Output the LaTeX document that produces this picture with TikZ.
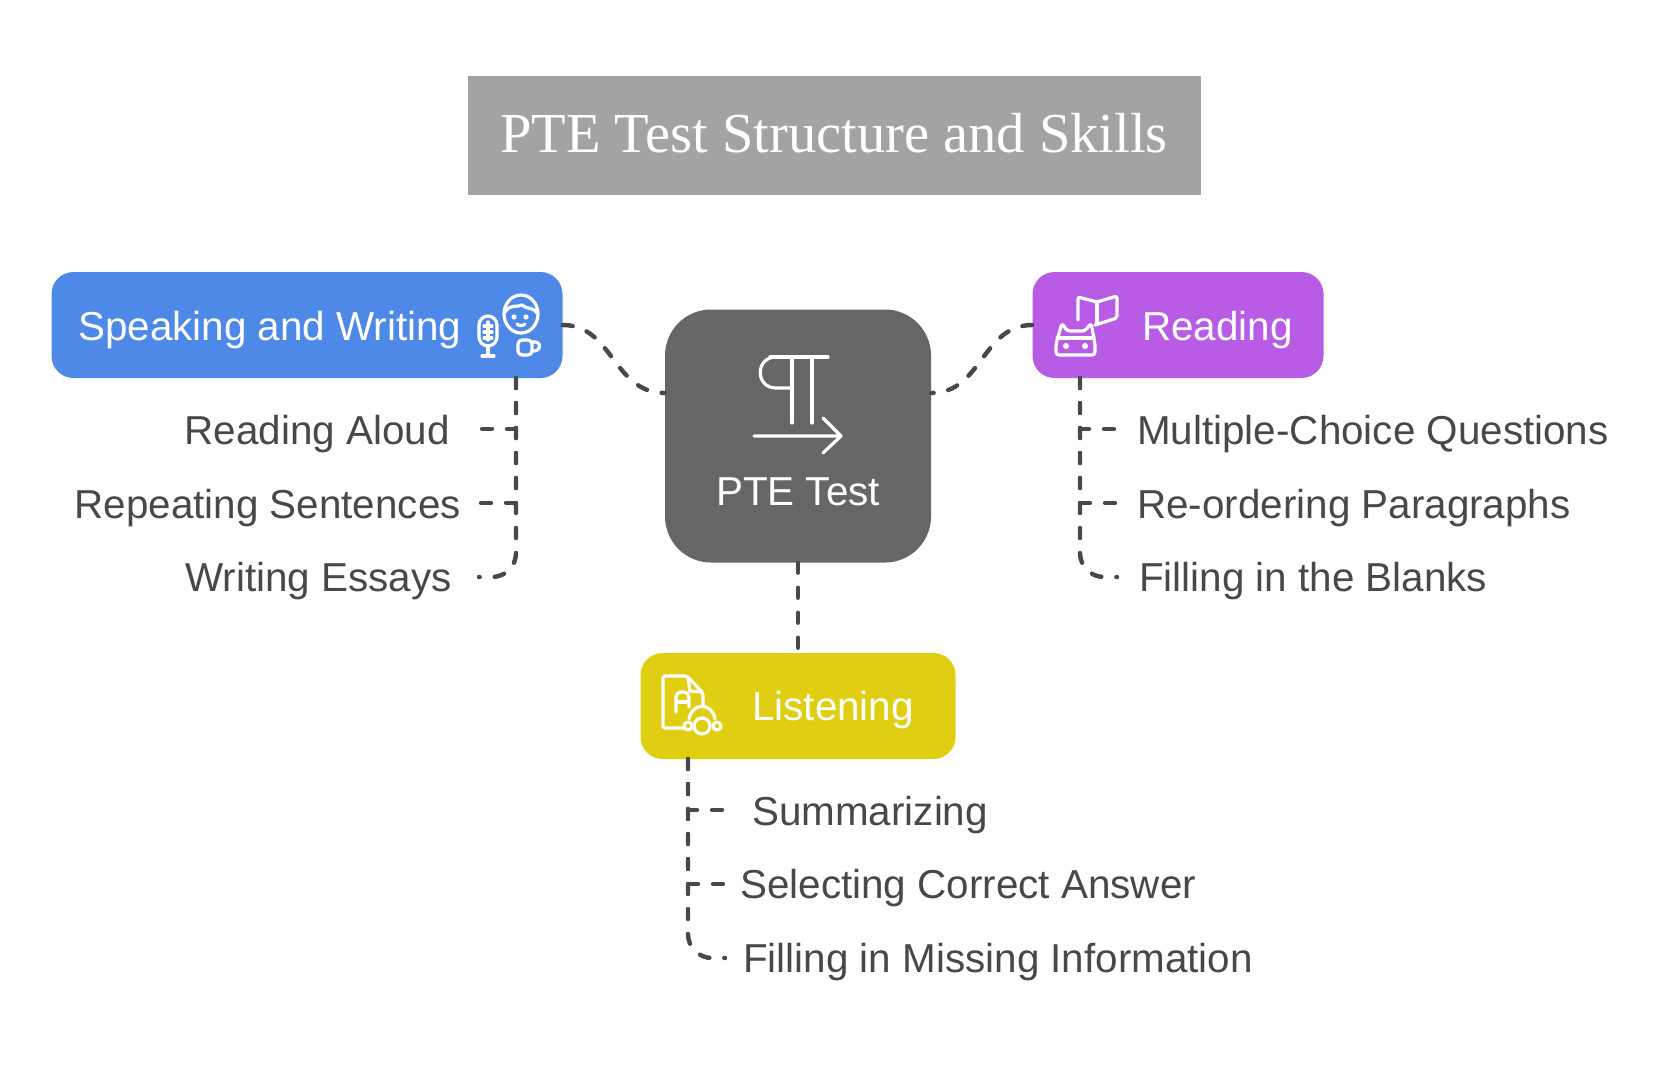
\documentclass[tikz,border=0pt]{standalone}
\usepackage{fontspec}
\setmainfont{Liberation Sans}
\newfontfamily\titlefont{Liberation Serif}
\usetikzlibrary{positioning}
\definecolor{speakBlue}{HTML}{4F89E8}
\definecolor{readPurple}{HTML}{B85CE6}
\definecolor{listenYellow}{HTML}{E0CE12}
\definecolor{centerGrey}{HTML}{666666}
\definecolor{titleGrey}{HTML}{A3A3A3}
\definecolor{textGrey}{HTML}{484848}
\tikzset{
  x=1pt,y=-1pt,
  skill/.style={rounded corners=22pt,inner sep=0pt,minimum height=106pt},
  skilltext/.style={text=white,font=\fontsize{40.4}{40}\selectfont,inner sep=0pt},
  item/.style={text=textGrey,font=\fontsize{40.4}{40}\selectfont,inner sep=0pt},
  link/.style={draw=textGrey,line width=4.4pt,line cap=round,dash pattern=on 10pt off 15pt},
  icon/.style={draw=white,line width=3.2pt,line cap=round,line join=round}
}
\begin{document}
\begin{tikzpicture}
  \useasboundingbox (0,0) rectangle (1669,1080);
  %--- Title ---
  \node (title) [fill=titleGrey,minimum width=733pt,minimum height=119pt,inner sep=0pt] at (834,135) {};
  \node (titletext) [anchor=base,text=white,inner sep=0pt,font=\titlefont\fontsize{56.5}{56}\selectfont] at (834,152) {PTE Test Structure and Skills};
  %--- Boxes ---
  \node (speak) [skill,fill=speakBlue,minimum width=511pt] at (307,325) {};
  \node (read) [skill,fill=readPurple,minimum width=291pt] at (1178,325) {};
  \node (listen) [skill,fill=listenYellow,minimum width=315pt] at (798,706) {};
  \node (test) [fill=centerGrey,rounded corners=46pt,minimum width=266pt,minimum height=253pt] at (798,436) {};
  \node (speaktext) [skilltext,anchor=base west] at (78,340) {Speaking and Writing};
  \node (readtext) [skilltext,anchor=base west] at (1142,340) {Reading};
  \node (listentext) [skilltext,anchor=base west] at (752,720) {Listening};
  \node (testtext) [skilltext,anchor=base] at (798,505) {PTE Test};
  %--- Items ---
  \node (aloud) [item,anchor=base east] at (450,444) {Reading Aloud};
  \node (repeat) [item,anchor=base east] at (461,518) {Repeating Sentences};
  \node (essays) [item,anchor=base east] at (452,591) {Writing Essays};
  \node (multi) [item,anchor=base west] at (1137,444) {Multiple-Choice Questions};
  \node (reorder) [item,anchor=base west] at (1137,518) {Re-ordering Paragraphs};
  \node (blanks) [item,anchor=base west] at (1139,591) {Filling in the Blanks};
  \node (summ) [item,anchor=base west] at (752,825) {Summarizing};
  \node (correct) [item,anchor=base west] at (740,898) {Selecting Correct Answer};
  \node (missing) [item,anchor=base west] at (743,972) {Filling in Missing Information};
  %--- Links ---
  \coordinate (testleft) at ([yshift=43pt]test.west);
  \coordinate (testright) at ([yshift=43pt]test.east);
  \draw [link] (speak.east) .. controls (613,325) and (613,393) .. (testleft);
  \draw [link] (read.west) .. controls (982,325) and (982,393) .. (testright);
  \draw [link] (test.south) -- (listen.north);
  % speaking
  \coordinate (speakdrop) at (516,378);
  \coordinate (aloudend) at (479,429);
  \coordinate (repeatend) at (479,503);
  \coordinate (essaysend) at (479,577);
  \draw [link] (speakdrop) |- (aloudend);
  \draw [link] (speakdrop) |- (repeatend);
  \draw [link,rounded corners=24pt] (speakdrop) |- (essaysend);
  % reading
  \coordinate (readdrop) at (1080,378);
  \coordinate (multiend) at (1117,429);
  \coordinate (reorderend) at (1117,503);
  \coordinate (blanksend) at (1117,577);
  \draw [link] (readdrop) |- (multiend);
  \draw [link] (readdrop) |- (reorderend);
  \draw [link,rounded corners=24pt] (readdrop) |- (blanksend);
  % listening
  \coordinate (listendrop) at (688,759);
  \coordinate (summend) at (725,810);
  \coordinate (correctend) at (725,884);
  \coordinate (missingend) at (725,958);
  \draw [link] (listendrop) |- (summend);
  \draw [link] (listendrop) |- (correctend);
  \draw [link,rounded corners=24pt] (listendrop) |- (missingend);
  %--- Icons ---
  % paragraph
  \draw [icon] (828,357) -- (770,357) (792,357) -- (792,423) (812,357) -- (812,423);
  \draw [icon] (792,357) -- (776,357) .. controls (755,357) and (755,388) .. (776,388) -- (792,388);
  \draw [icon] (754,436) -- (841,436) (823,418) -- (841,436) -- (823,453);
  % microphone
  \draw [icon,rounded corners=9pt] (479,316) rectangle (497,346);
  \draw [icon] (484,326) -- (492,326) (484,332) -- (492,332) (484,338) -- (492,338) (488,322) -- (488,340);
  \draw [icon] (488,346) -- (488,355) (482,356) -- (494,356);
  % face and cup
  \draw [icon] (521,314) ellipse [x radius=17,y radius=19];
  \draw [icon] (505,312) .. controls (511,303) and (517,308) .. (522,305) .. controls (527,310) and (532,306) .. (537,313);
  \draw [icon] (517,324) .. controls (519,326) and (523,326) .. (525,324);
  \fill [white] (514,317) circle [radius=2.6] (526,317) circle [radius=2.6];
  \draw [icon,rounded corners=4pt] (518,340) -- (532,340) -- (532,355) -- (518,355) -- cycle;
  \draw [icon] (532,342) .. controls (542,340) and (542,352) .. (532,351);
  % book
  \draw [icon,rounded corners=2pt] (1078,320) -- (1078,297) -- (1097,302) -- (1117,296) -- (1117,318) -- (1095,325);
  \draw [icon] (1097,302) -- (1097,323);
  % robot
  \draw [icon,rounded corners=3pt] (1056,344) -- (1062,323) -- (1067,331) -- (1085,331) -- (1091,323) -- (1095,344) -- (1095,355) -- (1056,355) -- cycle;
  \draw [icon] (1057,338) -- (1094,338);
  \fill [white] (1066,346) circle [radius=3] (1085,346) circle [radius=3];
  % document and headset
  \draw [icon,rounded corners=2pt] (684,728) -- (663,728) -- (663,676) -- (687,676) -- (703,693) -- (703,705);
  \draw [icon] (688,678) -- (690,691) -- (702,692);
  \draw [icon,rounded corners=5pt] (676,712) -- (676,692) -- (689,692) -- (689,707);
  \draw [icon] (676,702) -- (689,702);
  \draw [icon] (702,726) circle [radius=8];
  \draw [icon] (689,719) .. controls (692,702) and (712,702) .. (715,719);
  \draw [icon] (688,726) circle [radius=4] (717,726) circle [radius=4];
\end{tikzpicture}
\end{document}
